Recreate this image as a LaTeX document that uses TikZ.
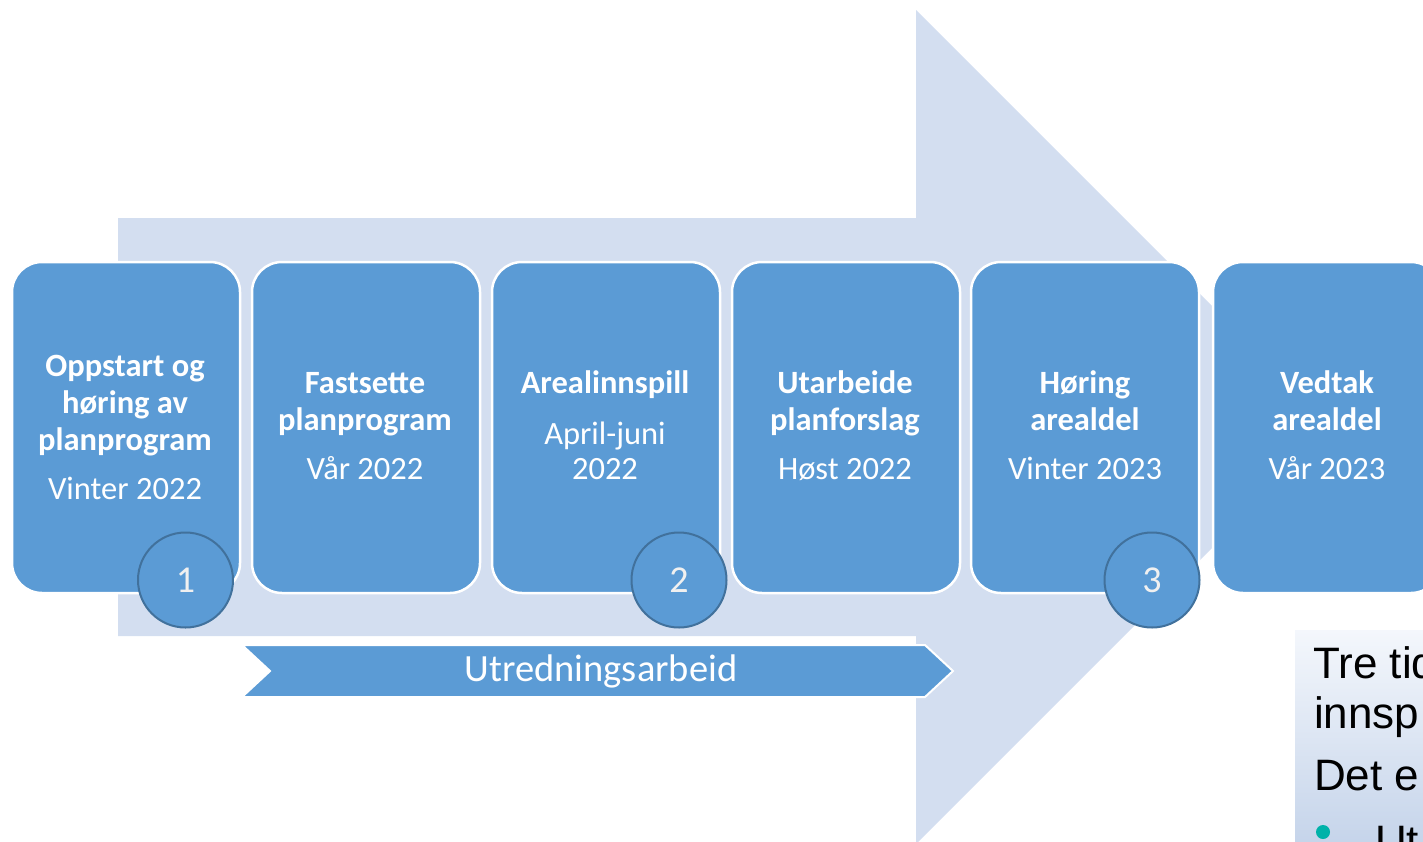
\documentclass[tikz,border=0pt]{standalone}
\usepackage{fontspec}
\setmainfont{Carlito}
\newfontfamily\arialfont{Liberation Sans}
\definecolor{shaftc}{RGB}{211,222,240}
\definecolor{boxc}{RGB}{91,155,213}
\definecolor{ringc}{RGB}{65,113,156}
\definecolor{tealc}{RGB}{0,178,169}
\definecolor{gradtop}{RGB}{244,247,252}
\definecolor{gradbot}{RGB}{197,212,234}
\begin{document}
\begin{tikzpicture}[x=1pt,y=-1pt,
  stagebox/.style={draw=white,line width=2.5pt,fill=boxc,rounded corners=30pt,
    minimum width=228pt,minimum height=331pt,inner sep=0pt},
  ttl/.style={text=white,font=\bfseries\fontsize{32.5}{37}\selectfont,anchor=base,inner sep=0pt},
  dat/.style={text=white,font=\fontsize{32.5}{37}\selectfont,anchor=base,inner sep=0pt},
  numc/.style={circle,draw=ringc,line width=2pt,fill=boxc,minimum size=95pt,inner sep=0pt,
    text=white!94!black,font=\fontsize{38}{40}\selectfont},
  note/.style={text=black,font=\arialfont\fontsize{44}{50}\selectfont,anchor=base west,inner sep=0pt}]
\useasboundingbox (0,0) rectangle (1423,841);
% big arrow
\fill[shaftc] (118,218) -- (916,218) -- (916,10) -- (1333,427) -- (916,844) -- (916,636) -- (118,636) -- cycle;
% stage boxes
\node[stagebox] (b1) at (126,427.5) {};
\node[stagebox] (b2) at (366,427.5) {};
\node[stagebox] (b3) at (606,427.5) {};
\node[stagebox] (b4) at (846,427.5) {};
\node[stagebox] (b5) at (1085,427.5) {};
\node[stagebox] (b6) at (1327,427.5) {};
% texts
\node[ttl] (t1a) at (125,376) {Oppstart og};
\node[ttl] (t1b) at (125,413) {høring av};
\node[ttl] (t1c) at (125,450) {planprogram};
\node[dat] (d1) at (125,499) {Vinter 2022};
\node[ttl] (t2a) at (365,393) {Fastsette};
\node[ttl] (t2b) at (365,430) {planprogram};
\node[dat] (d2) at (365,479) {Vår 2022};
\node[ttl] (t3a) at (605,393) {Arealinnspill};
\node[dat] (d3a) at (605,444) {April-juni};
\node[dat] (d3b) at (605,479) {2022};
\node[ttl] (t4a) at (845,393) {Utarbeide};
\node[ttl] (t4b) at (845,430) {planforslag};
\node[dat] (d4) at (845,479) {Høst 2022};
\node[ttl] (t5a) at (1085,393) {Høring};
\node[ttl] (t5b) at (1085,430) {arealdel};
\node[dat] (d5) at (1085,479) {Vinter 2023};
\node[ttl] (t6a) at (1327,393) {Vedtak};
\node[ttl] (t6b) at (1327,430) {arealdel};
\node[dat] (d6) at (1327,479) {Vår 2023};
% numbered circles
\node[numc] (c1) at (185.5,580) {1};
\node[numc] (c2) at (679,580) {2};
\node[numc] (c3) at (1152,580) {3};
% chevron
\draw[white,line width=2pt,fill=boxc] (242,645) -- (925,645) -- (953,671) -- (925,697) -- (242,697) -- (270,671) -- cycle;
\node[text=white,font=\fontsize{38.5}{40}\selectfont,inner sep=0pt] (u) at (601,671) {Utredningsarbeid};
% note box
\shade[top color=gradtop,bottom color=gradbot] (1295,630) rectangle (1430,845);
\node[note] (n1) at (1313,678) {Tre tid};
\node[note] (n2) at (1314,728) {innsp};
\node[note] (n3) at (1314,790) {Det e};
\node[circle,fill=tealc,minimum size=14pt,inner sep=0pt] (bul) at (1323,832) {};
\node[note] (n4) at (1375,856) {Ut};
\end{tikzpicture}
\end{document}
